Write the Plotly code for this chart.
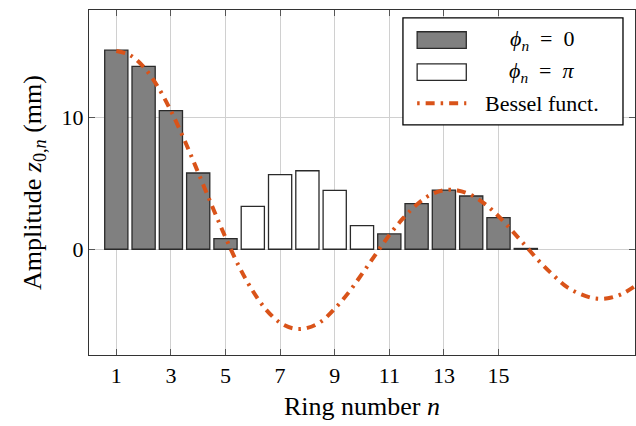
import plotly.graph_objects as go

# ---- data ----
ring_n = list(range(1, 17))
amplitude = [15.06, 13.83, 10.48, 5.77, 0.80, 3.25, 5.64, 5.94, 4.46, 1.78,
             1.16, 3.45, 4.48, 4.03, 2.39, 0.06]
phase_is_pi = [False, False, False, False, False, True, True, True, True, True,
               False, False, False, False, False, False]

bessel_x = [1, 1.5, 2, 2.5, 3, 3.5, 4, 4.5, 5, 5.5, 6, 6.5, 7, 7.5, 8, 8.5, 9,
            9.5, 10, 10.5, 11, 11.5, 12, 12.5, 13, 13.5, 14, 14.5, 15, 15.5,
            16, 16.5, 17, 17.5, 18, 18.5, 19, 19.5, 20]
bessel_y = [15.0, 14.69, 13.79, 12.36, 10.47, 8.24, 5.80, 3.31, 0.90, -1.32,
            -3.16, -4.60, -5.56, -6.00, -5.95, -5.47, -4.50, -3.30, -1.87, -0.39,
            1.07, 2.33, 3.37, 4.11, 4.47, 4.45, 4.10, 3.43, 2.50, 1.39,
            0.24, -0.93, -1.95, -2.85, -3.39, -3.71, -3.71, -3.40, -2.79]

x_ticks = [1, 3, 5, 7, 9, 11, 13, 15]
y_ticks = [0, 10]

legend_labels = ["<i>ϕ</i><sub><i>n</i></sub>\u2002=\u20020",
                 "<i>ϕ</i><sub><i>n</i></sub>\u2002=\u2002<i>π</i>",
                 "Bessel funct."]

FONT = "Liberation Serif"
FS = 22
ORANGE = "#D95319"
GRAY = "#808080"
EDGE = "#2a2a2a"
DASH = "9px,6px,2.5px,6px"

x0 = [n for n, p in zip(ring_n, phase_is_pi) if not p]
y0 = [a for a, p in zip(amplitude, phase_is_pi) if not p]
x1 = [n for n, p in zip(ring_n, phase_is_pi) if p]
y1 = [a for a, p in zip(amplitude, phase_is_pi) if p]

fig = go.Figure()
fig.add_trace(go.Bar(x=x0, y=y0, width=0.85, marker=dict(color=GRAY, line=dict(color=EDGE, width=1.3)),
                     showlegend=False))
fig.add_trace(go.Bar(x=x1, y=y1, width=0.85, marker=dict(color="white", line=dict(color=EDGE, width=1.3)),
                     showlegend=False))
fig.add_trace(go.Scatter(x=bessel_x, y=bessel_y, mode="lines", line_shape="spline",
                         line=dict(color=ORANGE, width=4, dash=DASH),
                         showlegend=False))

fig.update_layout(
    width=636, height=426,
    margin=dict(l=89, r=1, t=10, b=71),
    plot_bgcolor="white", paper_bgcolor="white",
    barmode="overlay",
    font=dict(family=FONT, size=FS, color="black"),
    xaxis=dict(range=[0, 20], tickvals=x_ticks, ticks="inside", ticklen=6, tickcolor="#555",
               mirror="ticks", showline=True, linecolor="#333", linewidth=1.3,
               showgrid=True, gridcolor="#d0d0d0", gridwidth=1, zeroline=False,
               title=dict(text="Ring number <i>n</i>", standoff=10)),
    yaxis=dict(range=[-8, 18.1], tickvals=y_ticks, ticks="inside", ticklen=6, tickcolor="#555",
               mirror="ticks", showline=True, linecolor="#333", linewidth=1.3,
               showgrid=True, gridcolor="#d0d0d0", gridwidth=1, zeroline=False,
               title=dict(text="Amplitude <i>z</i><sub>0,<i>n</i></sub> (mm)", standoff=12)),
)

# manual legend (paper coordinates)
lx0, lx1, ly0, ly1 = 0.575, 0.978, 0.667, 0.977
fig.add_shape(type="rect", xref="paper", yref="paper", x0=lx0, x1=lx1, y0=ly0, y1=ly1,
              fillcolor="white", line=dict(color="black", width=1.3), layer="above")
sx0, sx1 = 0.601, 0.691
rows = [0.913, 0.820, 0.730]
fig.add_shape(type="rect", xref="paper", yref="paper", x0=sx0, x1=sx1, y0=rows[0] - 0.024, y1=rows[0] + 0.024,
              fillcolor=GRAY, line=dict(color=EDGE, width=1.3), layer="above")
fig.add_shape(type="rect", xref="paper", yref="paper", x0=sx0, x1=sx1, y0=rows[1] - 0.024, y1=rows[1] + 0.024,
              fillcolor="white", line=dict(color=EDGE, width=1.3), layer="above")
fig.add_shape(type="line", xref="paper", yref="paper", x0=sx0, x1=sx1, y0=rows[2], y1=rows[2],
              line=dict(color=ORANGE, width=4, dash="2.5px,6px,9px,6px"), layer="above")
for lab, ry in zip(legend_labels, rows):
    fig.add_annotation(x=0.83, y=ry, xref="paper", yref="paper", text=lab, showarrow=False,
                       xanchor="center", yanchor="middle", font=dict(family=FONT, size=FS))

fig.write_html("out.html")
